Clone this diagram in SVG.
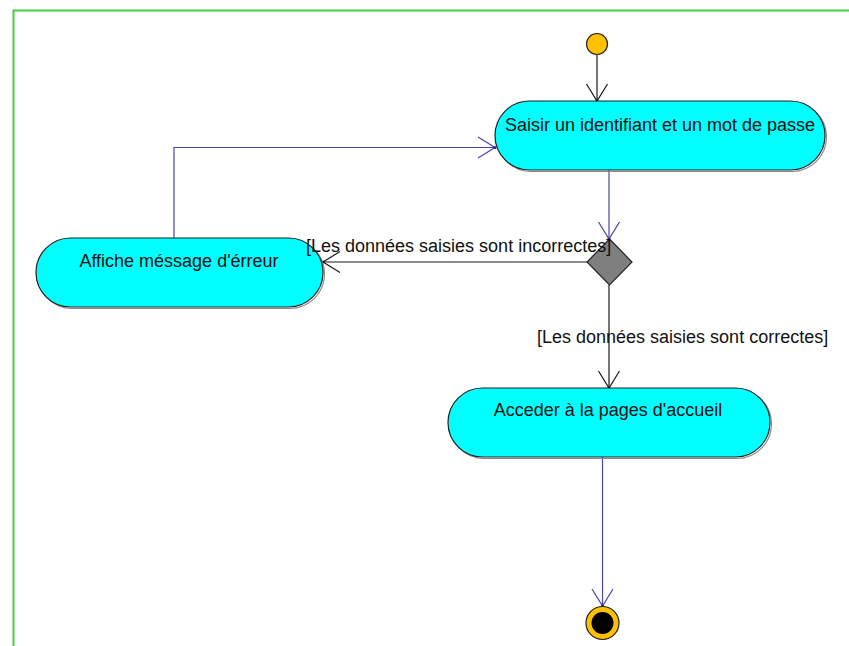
<svg xmlns="http://www.w3.org/2000/svg" width="849" height="646" viewBox="0 0 849 646">
  <defs>
    <style>
      text { font-family: "Liberation Sans", Arial, sans-serif; font-size: 18px; fill: #111; }
      .action { fill: #00ffff; stroke: #222; stroke-width: 1.2; }
      .shadow { fill: none; stroke: #8a8a8a; stroke-width: 1.2; }
      .flow-blue { fill: none; stroke: #4646ac; stroke-width: 1.2; }
      .flow-black { fill: none; stroke: #1a1a1a; stroke-width: 1.2; }
    </style>
    <marker id="arrow-blue" viewBox="-20 -12 22 24" refX="0" refY="0" markerWidth="22" markerHeight="24" markerUnits="userSpaceOnUse" orient="auto">
      <path d="M-17,-10.5 L0,0 L-17,10.5" fill="none" stroke="#4646ac" stroke-width="1.2"/>
      <circle cx="0" cy="0" r="1.5" fill="#2a2a80"/>
    </marker>
    <marker id="arrow-black" viewBox="-20 -12 22 24" refX="0" refY="0" markerWidth="22" markerHeight="24" markerUnits="userSpaceOnUse" orient="auto">
      <path d="M-17,-10.5 L0,0 L-17,10.5" fill="none" stroke="#1a1a1a" stroke-width="1.2"/>
      <circle cx="0" cy="0" r="1.5" fill="#000"/>
    </marker>
  </defs>

  <rect x="0" y="0" width="849" height="646" fill="#ffffff"/>
  <!-- frame -->
  <path d="M13.5,646 V10.5 H849" fill="none" stroke="#44d044" stroke-width="2"/>

  <!-- connectors -->
  <g id="connectors">
    <line class="flow-black" x1="597" y1="55" x2="597" y2="101" marker-end="url(#arrow-black)"/>
    <line class="flow-blue" x1="609" y1="170" x2="609" y2="239" marker-end="url(#arrow-blue)"/>
    <line class="flow-black" x1="587" y1="262" x2="323" y2="262" marker-end="url(#arrow-black)"/>
    <line class="flow-black" x1="609" y1="285" x2="609" y2="388" marker-end="url(#arrow-black)"/>
    <polyline class="flow-blue" points="174,238 174,147.5 495,147.5" marker-end="url(#arrow-blue)"/>
    <line class="flow-blue" x1="602.5" y1="457" x2="602.5" y2="606" marker-end="url(#arrow-blue)"/>
  </g>

  <!-- start -->
  <g id="initial">
    <circle cx="597" cy="44" r="10.5" fill="#ffc000" stroke="#222" stroke-width="1.2"/>
  </g>

  <g id="saisir">
    <rect class="shadow" x="496.5" y="102.5" width="330" height="69" rx="34.5"/>
    <rect class="action" x="495" y="101" width="330" height="69" rx="34.5"/>
    <text x="660" y="131" text-anchor="middle">Saisir un identifiant et un mot de passe</text>
  </g>

  <g id="decision">
    <polygon points="609.5,239 632,262 609.5,285 587,262" fill="#7f7f7f" stroke="#222" stroke-width="1.2"/>
  </g>

  <g id="erreur">
    <rect class="shadow" x="37.5" y="239.5" width="287" height="69" rx="34.5"/>
    <rect class="action" x="36" y="238" width="287" height="69" rx="34.5"/>
    <text x="179" y="267" text-anchor="middle">Affiche méssage d'érreur</text>
  </g>

  <g id="accueil">
    <rect class="shadow" x="449.5" y="389.5" width="322" height="69" rx="34.5"/>
    <rect class="action" x="448" y="388" width="322" height="69" rx="34.5"/>
    <text x="608" y="416" text-anchor="middle">Acceder à la pages d'accueil</text>
  </g>

  <g id="final">
    <circle cx="602.5" cy="623" r="16.5" fill="#ffc000" stroke="#222" stroke-width="1.2"/>
    <circle cx="602.5" cy="623" r="11" fill="#000"/>
  </g>

  <!-- guard labels, drawn above the nodes -->
  <g id="guards">
    <text x="306" y="252">[Les données saisies sont incorrectes]</text>
    <text x="537" y="343">[Les données saisies sont correctes]</text>
  </g>
</svg>
